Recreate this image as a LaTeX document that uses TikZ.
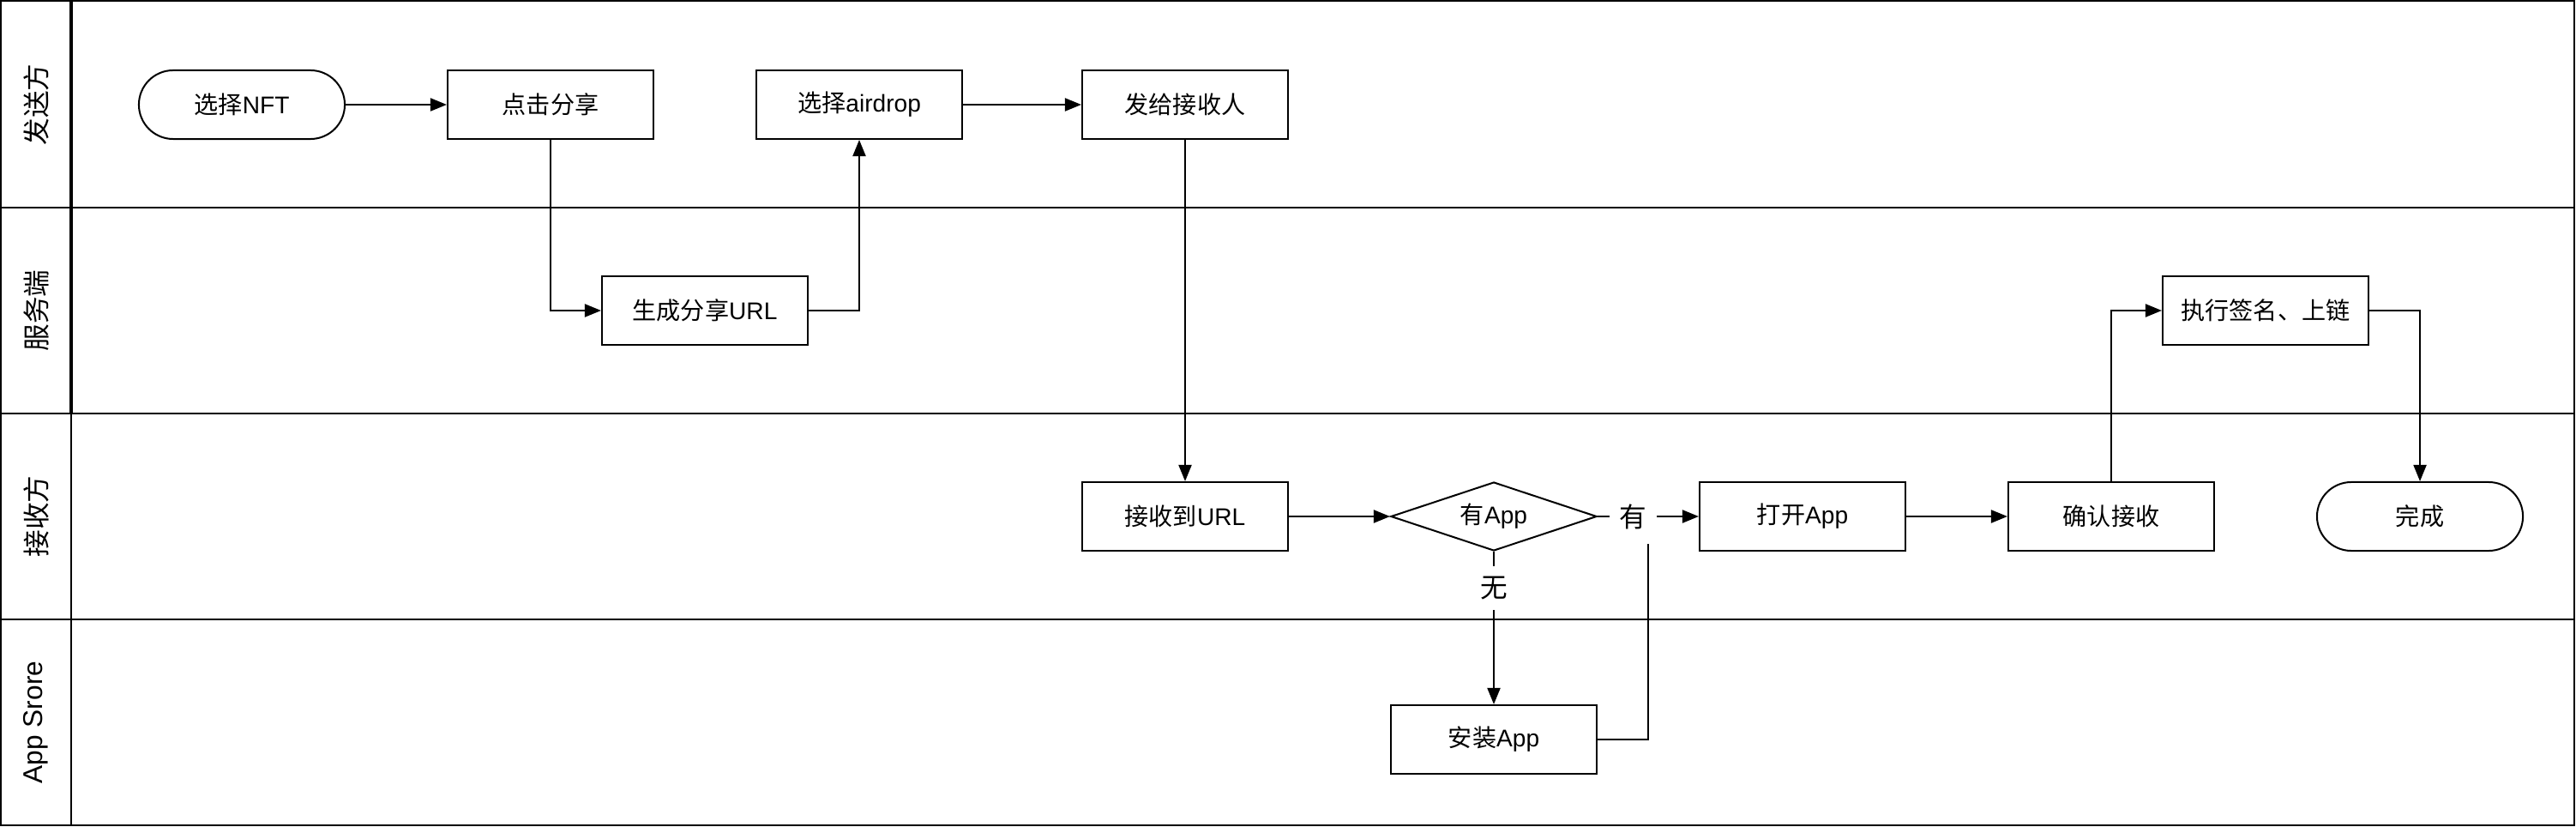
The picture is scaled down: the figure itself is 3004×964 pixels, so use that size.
\documentclass[tikz,border=0pt]{standalone}
\usepackage{fontspec}
\setmainfont{Liberation Sans}
\newfontfamily\cjk{Noto Sans CJK SC}
\usetikzlibrary{shapes.geometric,arrows.meta}
\newcommand\zh[1]{{\cjk #1}}
\begin{document}
\begin{tikzpicture}[x=0.01cm,y=-0.01cm,
  every node/.style={font=\fontsize{8pt}{9.6pt}\selectfont},
  procbox/.style={draw,line width=0.57pt,minimum width=2.4cm,minimum height=0.8cm,inner sep=0pt},
  termbox/.style={procbox,rounded corners=0.4cm},
  decbox/.style={draw,diamond,shape aspect=3,line width=0.57pt,minimum width=2.4cm,minimum height=0.8cm,inner sep=0pt},
  lanelabel/.style={rotate=90,font=\fontsize{9pt}{11pt}\selectfont},
  flow/.style={line width=0.57pt,-{Triangle[length=0.19cm,width=0.15cm]}},
  plainline/.style={line width=0.57pt},
  thickline/.style={line width=1.14pt},
  edgelabel/.style={fill=white,inner xsep=0.12cm,inner ysep=0.12cm,font=\fontsize{9pt}{11pt}\selectfont}
]
\fill[white] (0,0) rectangle (3004,964);
\useasboundingbox (0,0) rectangle (3004,964);

% swimlanes
\draw[plainline] (1,1) rectangle (3002,962);
\draw[plainline] (1,242) -- (3002,242);
\draw[plainline] (1,482) -- (3002,482);
\draw[plainline] (1,722) -- (3002,722);
\draw[thickline] (83,1) -- (83,482);
\draw[plainline] (83,482) -- (83,962);

\node[lanelabel] (lane1) at (42,122) {\zh{发送方}};
\node[lanelabel] (lane2) at (42,362) {\zh{服务端}};
\node[lanelabel] (lane3) at (42,602) {\zh{接收方}};
\node[lanelabel] (lane4) at (42,842) {App Srore};

% nodes
\node[termbox] (nft) at (282,122) {\zh{选择}NFT};
\node[procbox] (share) at (642,122) {\zh{点击分享}};
\node[procbox] (air) at (1002,122) {\zh{选择}airdrop};
\node[procbox] (send) at (1382,122) {\zh{发给接收人}};
\node[procbox] (url) at (822,362) {\zh{生成分享}URL};
\node[procbox] (sign) at (2642,362) {\zh{执行签名、上链}};
\node[procbox] (recv) at (1382,602) {\zh{接收到}URL};
\node[decbox] (has) at (1742,602) {\zh{有}App};
\node[procbox] (open) at (2102,602) {\zh{打开}App};
\node[procbox] (conf) at (2462,602) {\zh{确认接收}};
\node[termbox] (done) at (2822,602) {\zh{完成}};
\node[procbox] (inst) at (1742,862) {\zh{安装}App};
\coordinate (join) at (1922,634);

% connectors
\draw[flow] (nft) -- (share);
\draw[flow] (share.south) |- (url.west);
\draw[flow] (url.east) -| (air.south);
\draw[flow] (air) -- (send);
\draw[flow] (send) -- (recv);
\draw[flow] (recv) -- (has);
\draw[flow] (has.east) -- node[edgelabel,pos=0.35] (yeslbl) {\zh{有}} (open.west);
\draw[flow] (has.south) -- node[edgelabel,pos=0.24] (nolbl) {\zh{无}} (inst.north);
\draw[plainline] (inst.east) -| (join);
\draw[flow] (open) -- (conf);
\draw[flow] (conf.north) |- (sign.west);
\draw[flow] (sign.east) -| (done.north);
\end{tikzpicture}
\end{document}
